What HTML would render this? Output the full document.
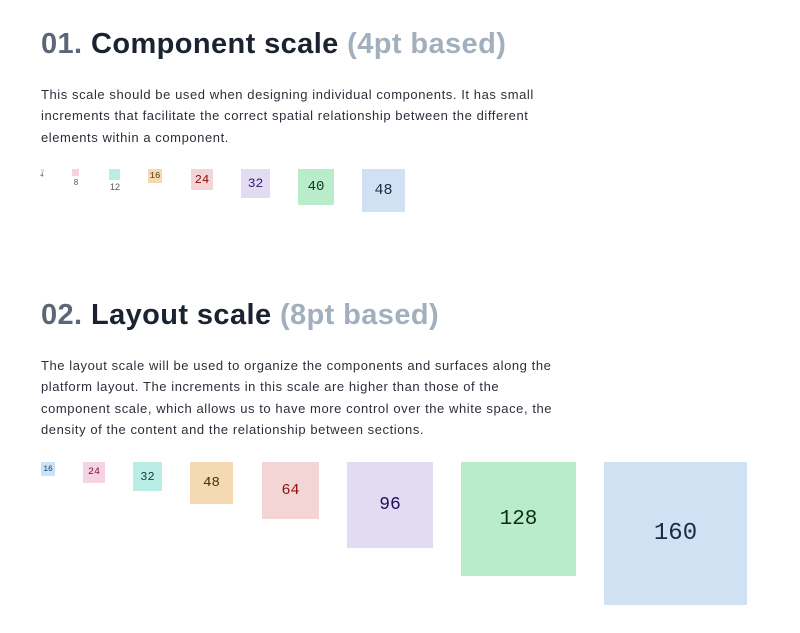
<!DOCTYPE html>
<html><head><meta charset="utf-8"><style>
*{margin:0;padding:0;box-sizing:border-box}
body{width:800px;height:633px;background:#fff;position:relative;font-family:"Liberation Sans",sans-serif;overflow:hidden}
.h{position:absolute;left:41px;font-size:29px;font-weight:bold;white-space:nowrap;letter-spacing:0.4px;line-height:34px}
.h .n{color:#5b6777}.h .t{color:#1b2230}.h .p{color:#a2afbe}
.b{position:absolute;left:41px;font-size:13px;color:#2a2f3a;line-height:21.3px;white-space:nowrap;letter-spacing:0.57px}
.s{position:absolute;display:flex;align-items:center;justify-content:center;font-family:"Liberation Mono",monospace}
.l{position:absolute;font-size:9px;color:#555;text-align:center}
</style></head><body>
<div class="h" style="top:27px"><span class="n">01.</span> <span class="t">Component scale</span> <span class="p">(4pt based)</span></div>
<div class="b" style="top:84px">This scale should be used when designing individual components. It has small<br>increments that facilitate the correct spatial relationship between the different<br>elements within a component.</div>

<div class="s" style="left:41px;top:169px;width:3px;height:3px;background:#cfe1f3"></div>
<div class="l" style="left:36px;top:173px;width:12px;font-size:6px">4</div>
<div class="s" style="left:72px;top:169px;width:7px;height:7px;background:#f5d3e1"></div>
<div class="l" style="left:68px;top:178px;width:16px;font-size:8px">8</div>
<div class="s" style="left:109px;top:169px;width:11px;height:11px;background:#b9ede6"></div>
<div class="l" style="left:106px;top:182px;width:18px;font-size:9px">12</div>
<div class="s" style="left:148px;top:169px;width:14px;height:14px;background:#f5d9b3;font-size:9px;color:#5a3a10">16</div>
<div class="s" style="left:191px;top:169px;width:22px;height:21px;background:#f3d5d5;font-size:12px;color:#8b0a0a">24</div>
<div class="s" style="left:241px;top:169px;width:29px;height:29px;background:#e2dcf3;font-size:13px;color:#2d1a6e">32</div>
<div class="s" style="left:298px;top:169px;width:36px;height:36px;background:#b9ecca;font-size:14px;color:#0f3a1e">40</div>
<div class="s" style="left:362px;top:169px;width:43px;height:43px;background:#cfe1f3;font-size:15px;color:#1c2a45">48</div>

<div class="h" style="top:298px"><span class="n">02.</span> <span class="t">Layout scale</span> <span class="p">(8pt based)</span></div>
<div class="b" style="top:355px">The layout scale will be used to organize the components and surfaces along the<br>platform layout. The increments in this scale are higher than those of the<br>component scale, which allows us to have more control over the white space, the<br>density of the content and the relationship between sections.</div>

<div class="s" style="left:41px;top:462px;width:14px;height:14px;background:#c8e2f7;font-size:8px;color:#1c3a5a">16</div>
<div class="s" style="left:83px;top:462px;width:22px;height:21px;background:#f5d3e1;font-size:10px;color:#7a1040">24</div>
<div class="s" style="left:133px;top:462px;width:29px;height:29px;background:#b9ede6;font-size:12px;color:#1a3a3a">32</div>
<div class="s" style="left:190px;top:462px;width:43px;height:42px;background:#f5d9b3;font-size:14px;color:#4a2e0a">48</div>
<div class="s" style="left:262px;top:462px;width:57px;height:57px;background:#f3d5d5;font-size:15px;color:#8b0a0a">64</div>
<div class="s" style="left:347px;top:462px;width:86px;height:86px;background:#e2dcf3;font-size:18px;color:#1f1060">96</div>
<div class="s" style="left:461px;top:462px;width:115px;height:114px;background:#b9ecca;font-size:21px;color:#0f2a18">128</div>
<div class="s" style="left:604px;top:462px;width:143px;height:143px;background:#cfe1f3;font-size:24px;color:#1c2a45">160</div>
</body></html>
